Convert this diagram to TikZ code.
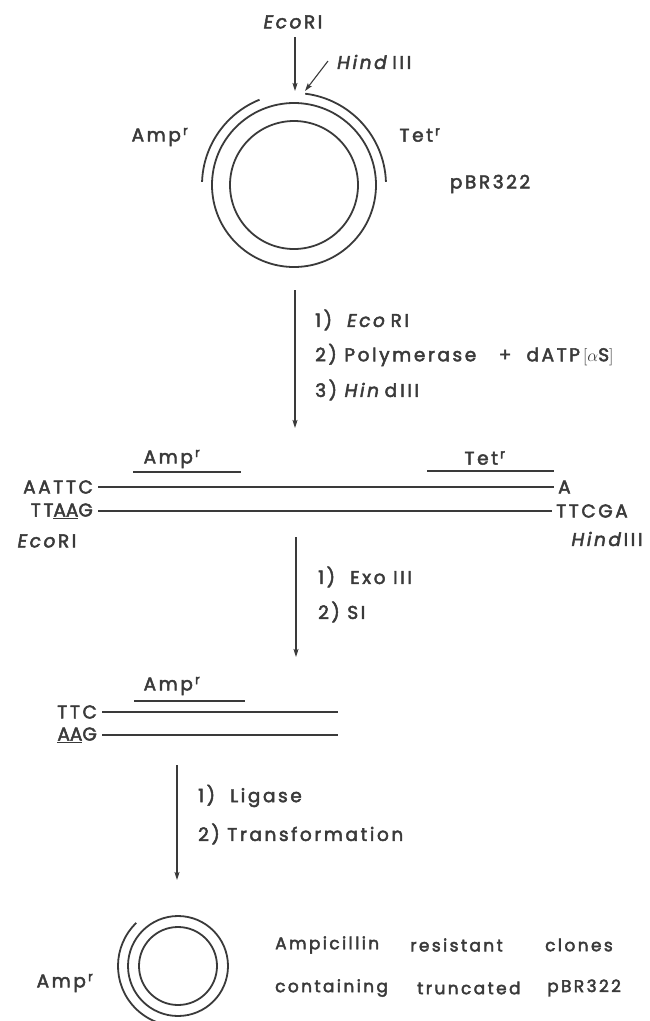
\documentclass[tikz,border=0pt]{standalone}
\usepackage{fontspec}
\setmainfont[LetterSpace=14,FakeBold=2.6]{Poppins}
\usetikzlibrary{arrows.meta}
\definecolor{ink}{HTML}{3A3A3A}
\newcommand{\resist}[1]{#1\textsuperscript{\,r}}
\tikzset{
  lbl/.style={text=ink, font=\fontsize{18.5}{20}\selectfont, inner sep=0pt},
  steptext/.style={lbl, anchor=west},
  caption/.style={steptext, font=\fontsize{17}{19}\selectfont},
  strand/.style={draw=ink, line width=1.8pt},
  gapped/.style={strand, shorten <=5pt, shorten >=4pt},
  ring/.style={draw=ink, line width=1.8pt},
  pointer/.style={draw=ink, line width=1.1pt, -{Stealth[length=8pt,width=5pt,inset=1.5pt]}},
}
\begin{document}
\begin{tikzpicture}[x=1pt,y=1pt]
\useasboundingbox (0,0) rectangle (649,-1021);

% ---------- intact pBR322 ----------
\coordinate (top) at (294,-185);
\draw[ring] (top) circle[radius=64];
\draw[ring] (top) circle[radius=82];
\draw[ring] ([shift={(112:92)}]top) arc[start angle=112, end angle=178, radius=92];
\draw[ring] ([shift={(2:92)}]top) arc[start angle=2, end angle=83, radius=92];

\node[lbl] (ecoTop) at (293,-22) {\textit{Eco}RI};
\node[lbl, anchor=west] (hindTop) at (337,-62) {\textit{Hind}\,III};
\coordinate (ecoFrom) at (295,-37);
\coordinate (ecoSite) at (295,-91);
\coordinate (hindFrom) at (328,-61);
\coordinate (hindSite) at (305,-91);
\draw[pointer] (ecoFrom) -- (ecoSite);
\draw[pointer] (hindFrom) -- (hindSite);

\node[lbl] (ampTop) at (160,-137) {\resist{Amp}};
\node[lbl] (tetTop) at (420,-135) {\resist{Tet}};
\node[lbl] (pbr) at (490,-184) {pBR322};

% ---------- step 1 ----------
\coordinate (s1a) at (295,-290);
\coordinate (s1b) at (295,-428);
\draw[pointer] (s1a) -- (s1b);
\node[steptext] (s1t1) at (315,-320) {1)\ \ \textit{Eco}\,RI};
\node[steptext] (s1t2) at (315,-355) {2)\ Polymerase\ \ \ +\ \ dATP\,\ensuremath{[\alpha}S\ensuremath{]}};
\node[steptext] (s1t3) at (315,-390) {3)\ \textit{Hin}\,d\,III};

% ---------- linear fragment ----------
\coordinate (ampL1) at (133,-472); \coordinate (ampR1) at (241,-472);
\coordinate (tetL1) at (427,-471); \coordinate (tetR1) at (554,-471);
\draw[strand] (ampL1) -- (ampR1);
\draw[strand] (tetL1) -- (tetR1);
\node[lbl] (ampLbl1) at (172,-459) {\resist{Amp}};
\node[lbl] (tetLbl1) at (485,-458) {\resist{Tet}};

\node[lbl, anchor=east] (topL1) at (93,-487) {AATTC};
\node[lbl, anchor=west] (topR1) at (558,-487) {A};
\node[lbl, anchor=east] (botL1) at (93,-511) {TT\underline{A}\underline{A}G};
\node[lbl, anchor=west] (botR1) at (556,-511) {TTCGA};
\draw[gapped] (topL1) -- (topR1);
\draw[gapped] (botL1) -- (botR1);
\node[lbl] (ecoLbl1) at (47,-541) {\textit{Eco}RI};
\node[lbl] (hindLbl1) at (607,-539) {\textit{Hind}III};

% ---------- step 2 ----------
\coordinate (s2a) at (296,-537);
\coordinate (s2b) at (296,-657);
\draw[pointer] (s2a) -- (s2b);
\node[steptext] (s2t1) at (318,-577) {1)\ \ Exo\ III};
\node[steptext] (s2t2) at (318,-612) {2)\ SI};

% ---------- truncated fragment ----------
\coordinate (ampL2) at (134,-701); \coordinate (ampR2) at (245,-701);
\draw[strand] (ampL2) -- (ampR2);
\node[lbl] (ampLbl2) at (172,-686) {\resist{Amp}};
\node[lbl, anchor=east] (topL2) at (97,-712) {TTC};
\node[lbl, anchor=east] (botL2) at (97,-735) {\underline{A}\underline{A}G};
\coordinate (topR2) at (338,-712);
\coordinate (botR2) at (338,-735);
\draw[strand, shorten <=5pt] (topL2) -- (topR2);
\draw[strand, shorten <=5pt] (botL2) -- (botR2);

% ---------- step 3 ----------
\coordinate (s3a) at (177,-765);
\coordinate (s3b) at (177,-880);
\draw[pointer] (s3a) -- (s3b);
\node[steptext] (s3t1) at (198,-796) {1)\ \ Ligase};
\node[steptext] (s3t2) at (198,-834) {2)\ Transformation};

% ---------- recircularised plasmid ----------
\coordinate (bot) at (178,-966);
\draw[ring] (bot) circle[radius=39];
\draw[ring] (bot) circle[radius=50];
\draw[ring] ([shift={(134:60)}]bot) arc[start angle=134, end angle=250, radius=60];
\node[lbl] (ampBot) at (65,-983) {\resist{Amp}};
\node[caption] (w1) at (275,-945) {Ampicillin};
\node[caption] (w2) at (410,-945) {resistant};
\node[caption] (w3) at (545,-945) {clones};
\node[caption] (w4) at (275,-988) {containing};
\node[caption] (w5) at (417,-988) {truncated};
\node[caption] (w6) at (547,-988) {pBR322};
\end{tikzpicture}
\end{document}
